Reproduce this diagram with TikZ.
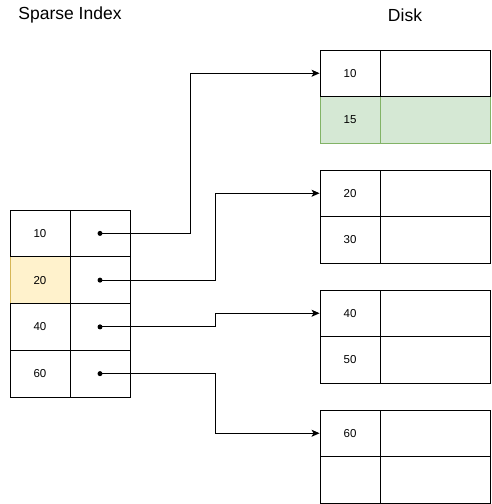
\documentclass[tikz,border=0pt]{standalone}
\usepackage{fontspec}
\setmainfont{Liberation Sans}
\usetikzlibrary{arrows.meta}
\definecolor{hlfill}{HTML}{FFF2CC}
\definecolor{hldraw}{HTML}{D6B656}
\definecolor{okfill}{HTML}{D5E8D4}
\definecolor{okdraw}{HTML}{82B366}
\tikzset{
  cell/.style     = {draw,line width=0.9pt,inner sep=0pt,font=\fontsize{11.5}{13}\selectfont},
  idxcell/.style  = {cell,minimum width=60pt,minimum height=46.75pt},
  keycell/.style  = {cell,minimum width=60pt,minimum height=46.5pt},
  valcell/.style  = {cell,minimum width=110pt,minimum height=46.5pt},
  ptrdot/.style   = {circle,fill,inner sep=0pt,minimum size=5pt},
  link/.style     = {-{Stealth[length=8pt,width=7pt,inset=2pt]},line width=0.9pt},
  heading/.style  = {font=\fontsize{17.5}{20}\selectfont}
}

\begin{document}
\begin{tikzpicture}[x=1pt,y=-1pt]
  \useasboundingbox (0,0) rectangle (491,504);
  \node[heading] (tindex) at (70,15) {Sparse Index};
  \node[heading] (tdisk)  at (405,15) {Disk};
  % sparse index
  \node[idxcell,fill=hlfill,draw=hldraw] (k2) at (40,280.1) {20};
  \foreach \k/\i in {10/1,40/3,60/4}
    \node[idxcell] (k\i) at (40,{210+46.75*(\i-0.5)}) {\k};
  \foreach \i in {1,...,4} {
    \node[idxcell] (p\i) at (100,{210+46.75*(\i-0.5)}) {};
    \node[ptrdot] (d\i) at (p\i.center) {};
  }
  % disk blocks
  \node[keycell,fill=okfill,draw=okdraw] (b1k2) at (350,119.75) {15};
  \node[valcell,fill=okfill,draw=okdraw] (b1v2) at (435,119.75) {};
  \foreach \b/\k in {1/10,2/20,3/40,4/60} {
    \node[keycell] (b\b k1) at (350,{50+120*(\b-1)+23.25}) {\k};
    \node[valcell] (b\b v1) at (435,{50+120*(\b-1)+23.25}) {};
  }
  \foreach \b/\k in {2/30,3/50,4/{}} {
    \node[keycell] (b\b k2) at (350,{50+120*(\b-1)+69.75}) {\k};
    \node[valcell] (b\b v2) at (435,{50+120*(\b-1)+69.75}) {};
  }
  % pointers
  \draw[link] (d1.center) -- ++(90,0) |- (b1k1.west);
  \draw[link] (d2.center) -- ++(115,0) |- (b2k1.west);
  \draw[link] (d3.center) -- ++(115,0) |- (b3k1.west);
  \draw[link] (d4.center) -- ++(115,0) |- (b4k1.west);
\end{tikzpicture}
\end{document}
